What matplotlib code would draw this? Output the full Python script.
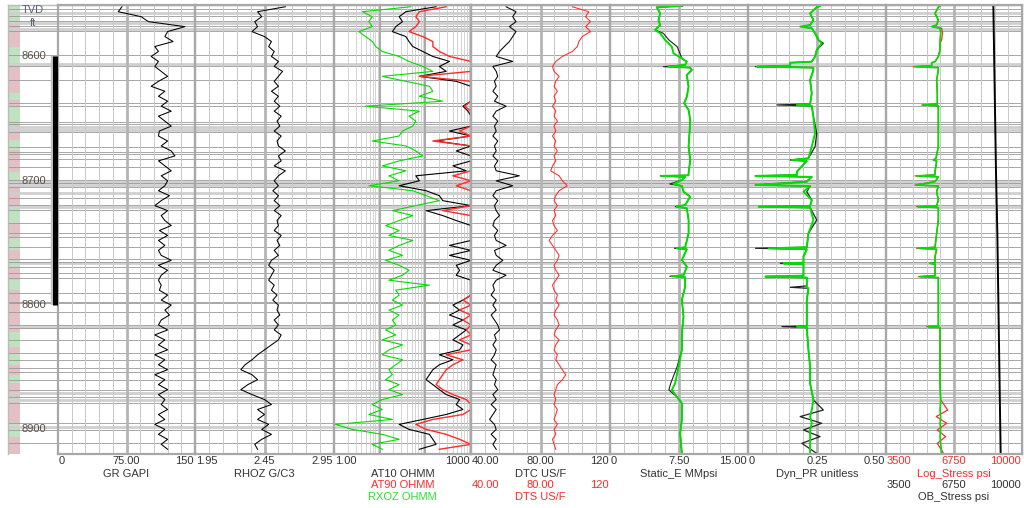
import numpy as np
import matplotlib
matplotlib.use("Agg")
import matplotlib.pyplot as plt

plt.rcParams['font.family'] = ['Liberation Sans', 'DejaVu Sans']

# ---------------- data ----------------
D_TOP, D_BOT = 8558.6, 8919.8
DEPTH = np.arange(8560, 8920, 4)          # 4 ft sampling, 90 samples

GR = [70, 66, 91, 99, 139, 120, 117, 126, 106, 110,
      102, 110, 106, 113, 120, 110, 102, 117, 110, 120,
      113, 124, 110, 117, 124, 111, 110, 120, 113, 124,
      128, 110, 117, 124, 113, 120, 117, 110, 122, 113,
      106, 120, 113, 117, 124, 111, 120, 110, 117, 110,
      113, 124, 110, 120, 113, 110, 113, 111, 120, 113,
      124, 117, 122, 113, 110, 120, 106, 117, 110, 120,
      106, 117, 110, 120, 106, 117, 110, 120, 110, 117,
      113, 120, 110, 117, 106, 117, 110, 120, 113, 120]

RHOZ = [2.60, 2.40, 2.43, 2.38, 2.40, 2.36, 2.45, 2.50, 2.48, 2.52,
        2.50, 2.55, 2.52, 2.58, 2.55, 2.52, 2.55, 2.50, 2.55, 2.52,
        2.56, 2.52, 2.57, 2.54, 2.56, 2.52, 2.57, 2.54, 2.55, 2.60,
        2.55, 2.57, 2.52, 2.60, 2.55, 2.52, 2.55, 2.51, 2.55, 2.52,
        2.56, 2.52, 2.57, 2.54, 2.55, 2.52, 2.57, 2.54, 2.56, 2.52,
        2.55, 2.50, 2.48, 2.52, 2.50, 2.48, 2.52, 2.50, 2.54, 2.51,
        2.55, 2.54, 2.56, 2.52, 2.55, 2.52, 2.57, 2.55, 2.50, 2.45,
        2.40, 2.36, 2.31, 2.28, 2.36, 2.40, 2.33, 2.28, 2.36, 2.45,
        2.50, 2.40, 2.45, 2.40, 2.48, 2.43, 2.50, 2.43, 2.38, 2.40]

RXOZ = [48, 4.2, 6.9, 5.8, 6.9, 3.5, 4.9, 6.9, 8.2, 11.4,
        26.7, 44, 88, 146, 11.4, 37.5, 123, 146, 74, 241,
        4.9, 74, 44, 62, 53, 31.6, 26.7, 6.9, 37.5, 62,
        88, 26.7, 11.4, 37.5, 16, 26.7, 5.8, 53, 104, 203,
        62, 19, 53, 26.7, 13.5, 26.7, 16, 53, 26.7, 16,
        31.6, 13.5, 26.7, 44, 31.6, 16, 123, 22.5, 26.7, 19,
        31.6, 16, 26.7, 19, 22.5, 13.5, 22.5, 11.4, 31.6, 16,
        11.4, 31.6, 22.5, 16, 19, 13.5, 26.7, 16, 31.6, 11.4,
        6.9, 11.4, 5.8, 19, 1.07, 2.5, 11.4, 26.7, 6.9, 11.4]

AT10 = [172, 37.5, 26.7, 31.6, 22.5, 19, 37.5, 44, 53, 88,
        146, 338, 203, 286, 74, 475, 1000, 1000, 1000, 1000,
        666, 859, 1000, 1000, 1000, 338, 1000, 172, 1000, 475,
        1000, 1000, 401, 789, 62, 74, 26.7, 104, 203, 241,
        1000, 104, 241, 475, 1000, 1000, 1000, 1000, 338, 1000,
        338, 1000, 475, 562, 475, 1000, 1000, 1000, 1000, 666,
        401, 562, 338, 666, 401, 789, 562, 401, 666, 562,
        203, 401, 203, 146, 123, 104, 146, 203, 286, 562,
        475, 666, 286, 88, 26.7, 44, 123, 146, 172, 74]

AT90 = [286, 74, 62, 74, 62, 44, 88, 146, 146, 203,
        338, 1000, 1000, 1000, 74, 1000, 1000, 1000, 1000, 1000,
        726, 1000, 1000, 1000, 1000, 562, 1000, 146, 1000, 1000,
        1000, 1000, 1000, 1000, 401, 1000, 475, 1000, 1000, 1000,
        1000, 241, 1000, 1000, 1000, 1000, 1000, 1000, 1000, 1000,
        1000, 1000, 1000, 1000, 1000, 1000, 1000, 1000, 1000, 666,
        1000, 562, 1000, 666, 1000, 789, 1000, 562, 1000, 1000,
        286, 666, 401, 286, 241, 203, 172, 241, 401, 789,
        1000, 1000, 666, 146, 62, 104, 286, 562, 1000, 203]

DTC = [60.2, 65.9, 64.0, 65.9, 62.1, 65.9, 64.0, 62.1, 59.2, 56.4,
       54.5, 64.0, 52.6, 54.5, 55.4, 53.5, 54.5, 52.6, 55.4, 53.5,
       60.2, 54.5, 52.6, 55.4, 53.5, 54.5, 52.6, 55.4, 53.5, 54.5,
       52.6, 55.4, 53.5, 54.5, 67.8, 54.5, 64.0, 54.5, 52.6, 55.4,
       53.5, 54.5, 56.4, 53.5, 52.6, 55.4, 53.5, 54.5, 60.2, 53.5,
       54.5, 58.3, 54.5, 52.6, 60.2, 54.5, 52.6, 53.5, 51.6, 54.5,
       52.6, 54.5, 51.6, 53.5, 55.4, 56.4, 53.5, 54.5, 52.6, 54.5,
       53.5, 51.6, 54.5, 53.5, 52.6, 54.5, 53.5, 55.4, 52.6, 54.5,
       51.6, 54.5, 52.6, 50.7, 53.5, 54.5, 51.6, 54.5, 52.6, 54.5]

DTS = [98.3, 107.8, 105.9, 108.8, 105.9, 108.8, 104.0, 102.1, 101.2, 98.3,
       92.6, 88.8, 86.9, 87.8, 90.7, 88.8, 87.8, 89.7, 87.8, 88.8,
       86.9, 88.8, 87.8, 89.7, 87.8, 88.8, 86.9, 88.8, 87.8, 89.7,
       87.8, 88.8, 86.9, 85.9, 90.7, 92.6, 95.4, 90.7, 88.8, 87.8,
       89.7, 87.8, 88.8, 86.9, 87.8, 89.7, 86.9, 85.0, 86.9, 88.8,
       90.7, 89.7, 87.8, 88.8, 90.7, 88.8, 86.9, 87.8, 89.7, 88.8,
       90.7, 88.8, 87.8, 89.7, 90.7, 88.8, 87.8, 90.7, 88.8, 87.8,
       89.7, 88.8, 90.7, 92.6, 94.5, 92.6, 89.7, 88.8, 87.8, 88.8,
       87.8, 89.7, 88.8, 87.8, 89.7, 87.8, 88.8, 86.9, 87.8, 88.8]

E_DEPTH = [8559.4, 8560.4, 8565.3, 8570.6, 8574.7, 8578.7, 8581.4, 8586.7, 8592.1, 8597.5,
           8601.5, 8604.2, 8606.8, 8608.2, 8609.0, 8610.9, 8614.9, 8624.3, 8632.3, 8637.7,
           8643.0, 8651.1, 8661.8, 8672.5, 8683.3, 8694.0, 8695.6, 8696.1, 8696.9, 8699.4,
           8702.6, 8704.2, 8708.8, 8712.8, 8719.5, 8720.8, 8722.2, 8731.5, 8742.3, 8753.5,
           8754.3, 8755.1, 8763.7, 8769.1, 8776.0, 8776.8, 8777.6, 8785.1, 8795.8, 8809.3,
           8822.7, 8836.1, 8849.5, 8862.9, 8868.3, 8873.7, 8879.0, 8892.4, 8903.2, 8919.3]
STATIC_E_GREEN = [7.63, 5.08, 5.45, 5.27, 5.45, 4.90, 5.45, 5.99, 6.72, 6.90,
                  7.81, 8.35, 8.17, 6.36, 8.72, 8.90, 8.35, 8.54, 8.35, 8.06,
                  8.54, 8.72, 8.64, 8.54, 8.72, 8.54, 8.54, 5.63, 8.17, 7.81,
                  6.90, 7.81, 7.99, 8.72, 8.17, 7.26, 8.35, 8.54, 8.54, 8.17,
                  7.26, 8.35, 7.81, 8.35, 7.99, 6.72, 8.17, 8.17, 7.81, 7.99,
                  7.81, 7.81, 7.45, 7.08, 6.72, 7.26, 7.81, 7.81, 7.63, 7.81]
STATIC_E_BLACK = [7.90, 5.08, 5.45, 5.27, 5.45, 4.90, 5.80, 6.40, 7.30, 7.60,
                  7.81, 8.35, 8.17, 5.80, 8.72, 8.90, 8.35, 8.54, 8.35, 8.06,
                  8.54, 8.72, 8.64, 8.54, 8.72, 8.54, 8.54, 5.45, 8.17, 7.81,
                  6.50, 7.81, 7.99, 8.72, 8.17, 7.10, 8.35, 8.54, 8.54, 8.17,
                  7.00, 8.35, 7.81, 8.35, 7.99, 6.50, 8.17, 8.17, 7.81, 7.99,
                  7.81, 7.81, 7.30, 6.60, 6.40, 7.26, 7.81, 7.81, 7.63, 7.81]

G_DEPTH = [8559.4, 8560.4, 8565.3, 8570.6, 8574.7, 8576.0, 8577.3, 8581.4, 8586.7, 8589.4,
           8594.8, 8600.1, 8604.2, 8605.0, 8607.4, 8608.2, 8609.0, 8610.9, 8618.9, 8629.6,
           8638.2, 8639.0, 8639.8, 8648.4, 8661.8, 8672.5, 8681.9, 8683.3, 8684.1, 8692.7,
           8695.3, 8696.1, 8696.9, 8700.7, 8703.4, 8704.2, 8708.8, 8715.5, 8720.3, 8720.8,
           8721.6, 8731.5, 8742.3, 8753.5, 8754.3, 8755.1, 8761.0, 8765.9, 8766.4, 8767.2,
           8776.3, 8777.1, 8777.9, 8784.6, 8785.7, 8786.5, 8795.8, 8816.8, 8817.3, 8818.1,
           8836.1, 8849.5, 8862.9, 8876.3, 8884.4, 8889.7, 8895.1, 8900.5, 8905.8, 8911.2, 8919.3]
DYN_PR_GREEN = [0.261, 0.249, 0.225, 0.237, 0.225, 0.189, 0.231, 0.243, 0.255, 0.267,
                0.249, 0.243, 0.231, 0.153, 0.153, 0.033, 0.237, 0.237, 0.225, 0.231,
                0.225, 0.177, 0.231, 0.237, 0.243, 0.231, 0.219, 0.159, 0.213, 0.177,
                0.177, 0.027, 0.231, 0.213, 0.027, 0.225, 0.201, 0.231, 0.225, 0.039,
                0.225, 0.237, 0.219, 0.213, 0.075, 0.213, 0.201, 0.201, 0.129, 0.201,
                0.201, 0.063, 0.213, 0.213, 0.213, 0.219, 0.213, 0.213, 0.177, 0.213,
                0.219, 0.225, 0.225, 0.237, 0.231, 0.225, 0.231, 0.225, 0.225, 0.225, 0.225]
DYN_PR_BLACK = [0.261, 0.249, 0.225, 0.237, 0.225, 0.195, 0.231, 0.243, 0.255, 0.273,
                0.249, 0.243, 0.231, 0.153, 0.153, 0.027, 0.237, 0.237, 0.225, 0.231,
                0.225, 0.105, 0.231, 0.237, 0.249, 0.243, 0.219, 0.153, 0.213, 0.177,
                0.177, 0.027, 0.231, 0.213, 0.027, 0.225, 0.213, 0.231, 0.225, 0.039,
                0.225, 0.249, 0.219, 0.213, 0.027, 0.213, 0.201, 0.201, 0.117, 0.201,
                0.201, 0.063, 0.213, 0.213, 0.153, 0.219, 0.213, 0.213, 0.123, 0.213,
                0.219, 0.225, 0.225, 0.237, 0.273, 0.189, 0.267, 0.201, 0.261, 0.195, 0.249]
LOG_STRESS_GREEN = [6081, 6001, 5842, 6001, 5921, 5682, 6081, 6113, 6081, 6081,
                    6081, 6001, 5842, 5682, 5682, 4886, 6001, 6001, 5921, 5953,
                    5953, 5284, 6001, 6001, 6001, 6001, 5890, 5762, 5921, 5842,
                    5842, 4966, 6001, 5842, 4966, 6001, 5921, 6001, 5921, 5045,
                    6001, 6001, 5921, 5842, 5045, 5921, 5842, 5842, 5603, 5842,
                    5842, 5125, 6001, 6001, 6001, 6001, 6001, 6001, 5523, 6081,
                    6081, 6081, 6081, 6113, 6081, 6113, 6081, 6113, 6081, 6113, 6160]
LOG_STRESS_RED = [6081, 6001, 5842, 6001, 5921, 5682, 6160, 6200, 6160, 6081,
                  6081, 6001, 5842, 5682, 5682, 4806, 6001, 6001, 5921, 5953,
                  5953, 5205, 6001, 6001, 6001, 6001, 5890, 5762, 5921, 5842,
                  5842, 4886, 6001, 5842, 4886, 6001, 5921, 6001, 5921, 4966,
                  6001, 6001, 5921, 5842, 4966, 5921, 5842, 5842, 5603, 5842,
                  5842, 5045, 6001, 6001, 6001, 6001, 6001, 6001, 5443, 6081,
                  6081, 6081, 6081, 6113, 6450, 5900, 6400, 5950, 6350, 5950, 6250]

OB_DEPTH = [8558.6, 8693, 8742, 8920]
OB_STRESS = [8630, 8757, 8821, 8980]

DEPTH_TICKS = [8600, 8700, 8800, 8900]
BAR_INTERVAL = [8600, 8800]

STRIP_BOUNDS = [8558.6, 8572.2, 8592.4, 8608.4, 8629.4, 8635.0, 8640.6, 8655.1, 8667.2, 8675.2,
                8692.9, 8701.8, 8719.5, 8734.0, 8746.0, 8755.7, 8763.7, 8769.4, 8779.8, 8787.9,
                8821.6, 8833.7, 8838.5, 8848.2, 8856.2, 8862.7, 8873.9, 8877.9, 8894.8, 8906.1, 8919.8]

GRID_THIN = [8562.0, 8567.4, 8571.2, 8575.5, 8579.5, 8598.8, 8607.4, 8618.9, 8637.1, 8639.8,
             8652.4, 8654.3, 8660.5, 8672.5, 8676.6, 8678.4, 8682.7, 8688.6, 8699.4, 8702.0,
             8704.7, 8714.1, 8719.5, 8723.5, 8734.2, 8742.3, 8745.5, 8753.0, 8763.2, 8765.1,
             8769.1, 8774.4, 8778.5, 8790.5, 8797.2, 8798.6, 8805.3, 8816.0, 8818.7, 8828.1,
             8838.8, 8844.2, 8850.9, 8853.6, 8860.3, 8868.3, 8873.7, 8879.0, 8895.1, 8900.5, 8911.2]
GRID_THICK = [8564.7, 8572.8, 8578.1, 8606.0, 8656.5, 8659.1, 8700.7, 8703.4, 8710.1, 8720.8,
              8766.4, 8817.4, 8871.0, 8876.3, 8897.8]

# track scales and labels
TRACK_SCALES = [(0, 150), (1.95, 2.95), (1, 1000), (40, 120), (0, 15), (0, 0.5), (3500, 10000)]
TICK_LABELS = [("0", "75.00", "150"), ("1.95", "2.45", "2.95"), ("1.00", "", "1000"),
               ("40.00", "80.00", "120"), ("0", "7.50", "15.00"), ("0", "0.25", "0.50"),
               ("3500", "6750", "10000")]

# ---------------- layout ----------------
W, H = 1024, 508
TOP_PX, BOT_PX = 5, 454
EDGES = [58, 195, 334, 471, 610, 748, 886, 1022]
GREEN = '#00dd00'
RED = '#ff2a2a'
TXT = '#333333'

fig = plt.figure(figsize=(W / 100, H / 100), dpi=100, facecolor='white')


def px_axes(x0, x1, z):
    ax = fig.add_axes([x0 / W, 1 - BOT_PX / H, (x1 - x0) / W, (BOT_PX - TOP_PX) / H], zorder=z)
    ax.set_ylim(D_BOT, D_TOP)
    ax.set_xticks([])
    ax.set_yticks([])
    ax.patch.set_alpha(0)
    return ax


def ftext(x, y, s, ha='center', color=TXT, size=8):
    fig.text(x / W, 1 - y / H, s, ha=ha, va='center', color=color, fontsize=size)


# depth-track colour strip
ax_strip = px_axes(8, 58, 0)
ax_strip.set_xlim(0, 50)
for i in range(len(STRIP_BOUNDS) - 1):
    col = '#bfe2bf' if i % 2 == 0 else '#e4c0c4'
    ax_strip.axhspan(STRIP_BOUNDS[i], STRIP_BOUNDS[i + 1], xmin=0, xmax=12 / 50, color=col, lw=0)
for s in ax_strip.spines.values():
    s.set_visible(False)

# horizontal grid spanning all tracks
ax_bg = px_axes(8, 1022, 1)
ax_bg.set_xlim(0, 1)
for d in GRID_THICK:
    ax_bg.axhline(d, color='#cfcfcf', lw=2.0, zorder=1)
for d in GRID_THIN:
    ax_bg.axhline(d, color='#999999', lw=0.6, zorder=2)
for s in ax_bg.spines.values():
    s.set_color('#bbbbbb')
    s.set_linewidth(1.0)
ax_bg.spines['bottom'].set_visible(False)

# tracks
axes = []
for k in range(7):
    ax = px_axes(EDGES[k], EDGES[k + 1], 2)
    lo, hi = TRACK_SCALES[k]
    if k == 2:
        ax.set_xscale('log')
        ax.set_xlim(lo, hi)
        for e in [1, 10, 100]:
            for m in range(2, 10):
                ax.axvline(m * e, color='#cccccc', lw=0.6, zorder=0)
        for e in [10, 100]:
            ax.axvline(e, color='#a8a8a8', lw=1.4, zorder=0)
        ax.minorticks_off()
        ax.set_xticks([])
    else:
        ax.set_xlim(lo, hi)
        xs = np.linspace(lo, hi, 11)[1:-1]
        for j, xv in enumerate(xs):
            if j == 4:
                ax.axvline(xv, color='#b4b4b4', lw=2.0, zorder=0)
            else:
                ax.axvline(xv, color='#c8c8c8', lw=0.7, zorder=0)
    for s in ax.spines.values():
        s.set_color('#a8a8a8')
        s.set_linewidth(1.6)
    axes.append(ax)

ax_gr, ax_rho, ax_res, ax_dt, ax_e, ax_pr, ax_st = axes

ax_gr.plot(GR, DEPTH, color='black', lw=0.75)
ax_rho.plot(RHOZ, DEPTH, color='black', lw=0.75)
ax_res.plot(RXOZ, DEPTH, color=GREEN, lw=0.8)
ax_res.plot(AT10, DEPTH, color='black', lw=0.8)
ax_res.plot(AT90, DEPTH, color=RED, lw=1.0)
ax_dt.plot(DTC, DEPTH, color='black', lw=0.75)
ax_dt.plot(DTS, DEPTH, color=RED, lw=0.75)
ax_e.plot(STATIC_E_BLACK, E_DEPTH, color='#222222', lw=0.8)
ax_e.plot(STATIC_E_GREEN, E_DEPTH, color=GREEN, lw=1.4)
ax_pr.plot(DYN_PR_BLACK, G_DEPTH, color='#222222', lw=0.9)
ax_pr.plot(DYN_PR_GREEN, G_DEPTH, color=GREEN, lw=1.4)
ax_st.plot(LOG_STRESS_RED, G_DEPTH, color=RED, lw=0.9)
ax_st.plot(LOG_STRESS_GREEN, G_DEPTH, color=GREEN, lw=1.2)
ax_st.plot(OB_STRESS, OB_DEPTH, color='black', lw=1.4)

# depth labels & bar
ax_lab = px_axes(8, 58, 3)
ax_lab.set_xlim(0, 50)
ax_lab.axis('off')
for d in DEPTH_TICKS:
    ax_lab.text(14, d, str(d), ha='left', va='center', fontsize=8, color='#5a5048')
ax_lab.plot([46.5, 46.5], BAR_INTERVAL, color='#c0c0c0', lw=6.0, solid_capstyle='butt')
ax_lab.plot([46.5, 46.5], BAR_INTERVAL, color='black', lw=3.6, solid_capstyle='butt')
ftext(33, 10, "TVD", color='#5a6078')
ftext(33, 23, "ft", color='#5a6078')

# bottom scale labels
ROW = [461, 474, 485, 497]
for k in range(7):
    x0, x1 = EDGES[k], EDGES[k + 1]
    col = RED if k == 6 else TXT
    l, c, r = TICK_LABELS[k]
    ftext(x0 + 1, ROW[0], l, ha='left', color=col)
    if c:
        ftext((x0 + x1) / 2, ROW[0], c, color=col)
    ftext(x1 - 1, ROW[0], r, ha='right', color=col)

NAMES = ["GR GAPI", "RHOZ G/C3", "AT10 OHMM", "DTC US/F", "Static_E MMpsi",
         "Dyn_PR unitless", "Log_Stress psi"]
for k, nm in enumerate(NAMES):
    ftext((EDGES[k] + EDGES[k + 1]) / 2, ROW[1], nm, color=RED if k == 6 else TXT)

cx3 = (EDGES[2] + EDGES[3]) / 2
ftext(cx3, ROW[2], "AT90 OHMM", color=RED)
ftext(cx3, ROW[3], "RXOZ OHMM", color='#33dd33')

l, c, r = TICK_LABELS[3]
ftext(EDGES[3] + 1, ROW[2], l, ha='left', color=RED)
ftext((EDGES[3] + EDGES[4]) / 2, ROW[2], c, color=RED)
ftext(EDGES[4] - 1, ROW[2], r, ha='right', color=RED)
ftext((EDGES[3] + EDGES[4]) / 2, ROW[3], "DTS US/F", color=RED)

l, c, r = TICK_LABELS[6]
ftext(EDGES[6] + 1, ROW[2], l, ha='left')
ftext((EDGES[6] + EDGES[7]) / 2, ROW[2], c)
ftext(EDGES[7] - 1, ROW[2], r, ha='right')
ftext((EDGES[6] + EDGES[7]) / 2, ROW[3], "OB_Stress psi")

fig.savefig("out.png", dpi=100, facecolor='white')
